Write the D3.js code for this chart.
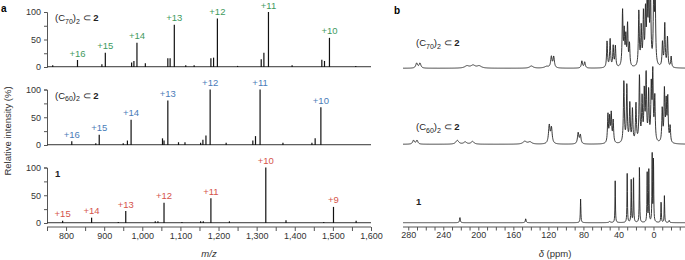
<!DOCTYPE html>
<html><head><meta charset="utf-8">
<script src="https://cdn.jsdelivr.net/npm/d3@7"></script>
<style>
body{margin:0;background:#fff;}
svg{display:block;font-family:"Liberation Sans",Arial,sans-serif;}
</style></head>
<body><svg id="c" width="685" height="260"></svg>
<script>
// ---------------- DATA ----------------
// Mass spectra: [m/z, relative intensity %]
const msC70 = [[765,3],[830,12.7],[894,5],[903,26],[972,8],[978,11],[986,44],[1008,7],[1067,16],[1073,16],[1084,77],[1114,3],[1136,3],[1180,16],[1187,17],[1197,88],[1250,2],[1312,14],[1319,26],[1331,100],[1393,3],[1471,13],[1478,11],[1491,53],[1560,2]];
const msC60 = [[815,6.7],[878,3],[887,18.6],[950,3],[961,8],[970.6,45.6],[1053,12],[1057,8],[1067,80],[1095,5],[1112,5],[1153,4],[1159,9.5],[1167,17],[1178,100],[1220,4],[1290,8],[1297,16],[1309,100],[1369,4],[1445,4],[1453.5,12],[1468.5,68]];
const ms1 = [[791,4],[867,9.6],[937,2],[956.6,21.6],[1034,3],[1041,3],[1057,36.6],[1104,2],[1153,3],[1160,3],[1180,44.5],[1228.6,3],[1324,100],[1377,5],[1476,2],[1501.6,29],[1561,4]];
// charge-state labels: [m/z of peak, label]
const lblC70 = [[830,"+16"],[903,"+15"],[986,"+14"],[1084,"+13"],[1197,"+12"],[1331,"+11"],[1491,"+10"]];
const lblC60 = [[815,"+16"],[887,"+15"],[970.6,"+14"],[1067,"+13"],[1178,"+12"],[1309,"+11"],[1468.5,"+10"]];
const lbl1   = [[791,"+15"],[867,"+14"],[956.6,"+13"],[1057,"+12"],[1180,"+11"],[1324,"+10"],[1501.6,"+9"]];
const msTicks = [800,900,1000,1100,1200,1300,1400,1500,1600];
const yTicks = [0,50,100];

// NMR: [ppm, height (100 = 55 px), half-width ppm]
const nmrC70 = [[270.4,9,1.2],[266.6,9,1.2],[213,4,3],[206,5,3],[199,4,3],[139.4,4,2.5],[122,3,3],[116.6,20,0.9],[113.9,20,0.9],[81.7,13,0.8],[78.5,11,0.8],
 [53,48,0.6],[49.5,52,0.6],[46,38,0.6],[43.5,38,0.6],[35.3,100,0.6],[33.4,60,0.6],[31.6,50,0.6],[29.6,75,0.6],[27.4,40,0.6],
 [16.7,100,0.6],[14,68,0.6],[11.4,95,0.6],[9.1,95,0.6],[7.2,118,0.6],[5.4,135,0.6],[3.4,135,0.6],[-0.3,135,0.6],[-1.9,135,0.6],
 [-10.3,45,0.6],[-12.9,78,0.6],[-16,55,0.6],[-20.2,20,0.6]];
const nmrC60 = [[274,7,1.2],[270,7,1.2],[224,7,2],[215,4,2],[206.6,5,2],[147,5,2.5],[141,4,2.5],[119,33,1],[116.5,28,1],[86,20,0.9],[83.5,16,0.9],
 [52,52,0.6],[50,45,0.6],[48.2,52,0.6],[46,40,0.6],[33.8,113,0.6],[30.4,104,0.6],[27,70,0.6],[24,60,0.6],[20,70,0.6],
 [16,120,0.6],[13,80,0.6],[10.5,90,0.6],[8.4,122,0.6],[5.5,90,0.6],[2.5,100,0.6],[0.8,122,0.6],[-1.5,80,0.6],
 [-10,60,0.6],[-12.5,93,0.6],[-14.5,70,0.6],[-16.3,80,0.6],[-19,30,0.6]];
const nmr1 = [[221,9.6,0.5],[145.9,7.3,0.5],[83.2,43,0.35],[50,2,1],[43.7,76,0.3],[30,89,0.3],[25.4,78,0.3],[22.8,91,0.3],[16,105,0.3],[7.2,91,0.3],[5.3,96,0.3],[1.5,125,0.3],[0,120,0.3],[-8.7,41,0.3],[-12.5,49,0.3],[-18,4,0.5]];
const nmrTicks = [280,240,200,160,120,80,40,0];

// ---------------- DRAW ----------------
const svg = d3.select("#c");
const green="#3f9a5e", blue="#4a7cb8", red="#d5544b", axisC="#555";

// panel a scales
const x = d3.scaleLinear().domain([750,1600]).range([47,371]);
const panels = [
  {data:msC70, lbls:lblC70, col:green, y:d3.scaleLinear().domain([0,100]).range([67,12]), name:"C70"},
  {data:msC60, lbls:lblC60, col:blue,  y:d3.scaleLinear().domain([0,100]).range([145,89.5]), name:"C60"},
  {data:ms1,   lbls:lbl1,   col:red,   y:d3.scaleLinear().domain([0,100]).range([223,167.5]), name:"1"}
];

function guestLabel(g, xx, yy, sub){
  const t = g.append("text").attr("x",xx).attr("y",yy).attr("font-size",9.5).attr("fill","#222");
  if(sub==="1"){ t.attr("font-weight","bold").text("1"); return; }
  t.append("tspan").text("(C");
  t.append("tspan").attr("font-size",7).attr("dy",2.5).text(sub.slice(1));
  t.append("tspan").attr("dy",-2.5).text(")");
  t.append("tspan").attr("font-size",7).attr("dy",2.5).text("2");
  t.append("tspan").attr("dy",-2.5).text(" \u2282 ");
  t.append("tspan").attr("font-weight","bold").text("2");
}

panels.forEach(p=>{
  const g = svg.append("g");
  const ax = d3.axisLeft(p.y).tickValues([0,25,50,75,100]).tickSize(3).tickFormat(d=>yTicks.includes(d)?d:"");
  const ga = g.append("g").attr("transform","translate(47,0)").call(ax);
  ga.select(".domain").attr("stroke",axisC);
  ga.selectAll(".tick line").attr("stroke",axisC);
  ga.selectAll("text").attr("font-size",9).attr("fill","#333").attr("font-family","Liberation Sans, Arial");
  // baseline
  g.append("line").attr("x1",x(750)).attr("x2",x(1600)).attr("y1",p.y(0.5)).attr("y2",p.y(0.5)).attr("stroke","#333").attr("stroke-width",1);
  // peaks
  g.selectAll("line.pk").data(p.data).enter().append("line").attr("class","pk")
    .attr("x1",d=>x(d[0])).attr("x2",d=>x(d[0])).attr("y1",p.y(0)).attr("y2",d=>p.y(d[1]))
    .attr("stroke","#111").attr("stroke-width",1.2);
  // labels
  const map = new Map(p.data.map(d=>[d[0],d[1]]));
  g.selectAll("text.lb").data(p.lbls).enter().append("text").attr("class","lb")
    .attr("x",d=>x(d[0])).attr("y",d=>p.y(map.get(d[0]))-3.5).attr("text-anchor","middle")
    .attr("font-size",9.5).attr("fill",p.col).text(d=>d[1]);
  guestLabel(g, 55, p.y(100)+9, p.name);
});

// x axis panel a
const xa = svg.append("g").attr("transform","translate(0,227)")
  .call(d3.axisBottom(x).tickValues(d3.range(750,1601,50)).tickSize(4).tickFormat(d=>msTicks.includes(d)?d3.format(",")(d):""));
xa.select(".domain").attr("stroke",axisC).attr("d","M47,0H371");
xa.selectAll(".tick line").attr("stroke",axisC);
xa.selectAll("text").attr("font-size",9).attr("fill","#333").attr("font-family","Liberation Sans, Arial").attr("dy","0.55em");
svg.append("text").attr("x",209).attr("y",257).attr("text-anchor","middle").attr("font-size",9.5).attr("font-style","italic").attr("fill","#333").text("m/z");
svg.append("text").attr("transform","translate(11,131) rotate(-90)").attr("text-anchor","middle").attr("font-size",9.5).attr("fill","#333").text("Relative intensity (%)");
svg.append("text").attr("x",1).attr("y",12).attr("font-size",10).attr("font-weight","bold").text("a");
svg.append("text").attr("x",394).attr("y",14).attr("font-size",10).attr("font-weight","bold").text("b");

// panel b
const xn = d3.scaleLinear().domain([286,-36]).range([403,685]);
const nmrPanels = [
  {data:nmrC70, base:68.3, name:"C70", ly:46},
  {data:nmrC60, base:144.3, name:"C60", ly:130},
  {data:nmr1, base:222.7, name:"1", ly:205}
];
const ppmSamples = d3.range(403,685.01,0.2).map(px=>xn.invert(px));
nmrPanels.forEach(p=>{
  const yn = d3.scaleLinear().domain([0,100]).range([p.base,p.base-55]);
  const pts = ppmSamples.map(s=>{
    let v=0; p.data.forEach(([c,h,w])=>{ v += h/(1+((s-c)/w)**2); });
    return [s,v];
  });
  svg.append("path").datum(pts).attr("fill","none").attr("stroke","#222").attr("stroke-width",0.9)
    .attr("d",d3.line().x(d=>xn(d[0])).y(d=>yn(d[1])));
  guestLabel(svg, 416, p.ly, p.name);
});
const xb = svg.append("g").attr("transform","translate(0,227)")
  .call(d3.axisBottom(xn).tickValues(d3.range(280,-31,-10)).tickSize(3.5).tickFormat(d=>nmrTicks.includes(d)?d:""));
xb.select(".domain").attr("stroke",axisC).attr("d","M403,0H685");
xb.selectAll(".tick line").attr("stroke",axisC);
xb.selectAll("text").attr("font-size",9).attr("fill","#333").attr("font-family","Liberation Sans, Arial").attr("dy","0.55em");
const dl = svg.append("text").attr("x",555).attr("y",257).attr("text-anchor","middle").attr("font-size",9.5).attr("fill","#333");
dl.append("tspan").attr("font-style","italic").text("\u03b4");
dl.append("tspan").text(" (ppm)");
</script></body></html>
